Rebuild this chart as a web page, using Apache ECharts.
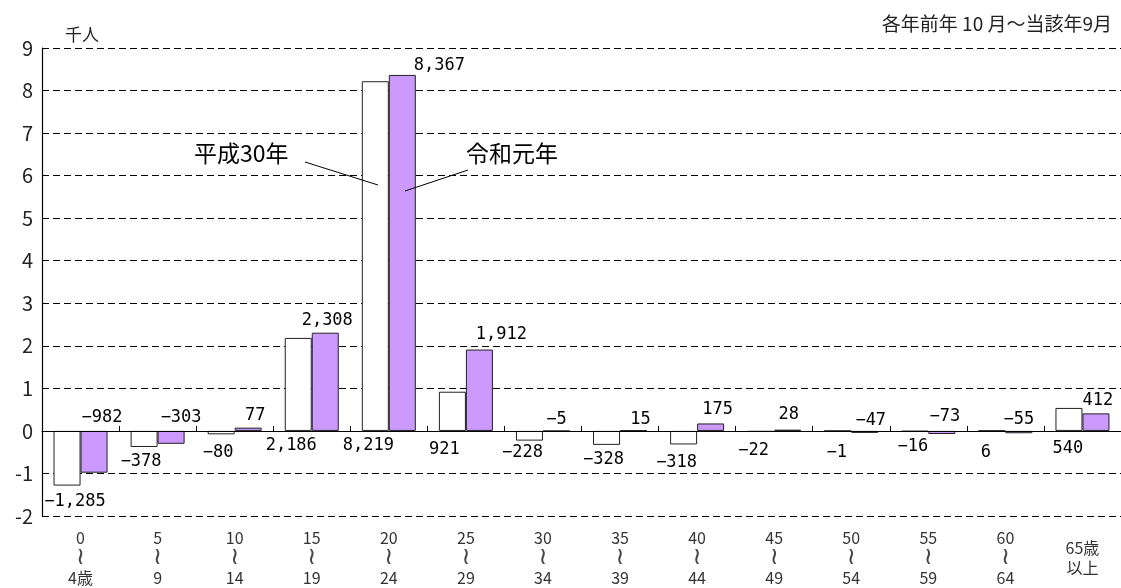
<!DOCTYPE html>
<html>
<head>
<meta charset="utf-8">
<script src="https://cdn.jsdelivr.net/npm/echarts@6.0.0/dist/echarts.min.js"></script>
<style>
  html, body { margin: 0; padding: 0; background: #fff; }
  #main { width: 1121px; height: 588px; }
</style>
</head>
<body>
<div id="main"></div>
<script>
// 年齢階級
const categories = ['0\n{w|≀}\n4歳', '5\n{w|≀}\n9', '10\n{w|≀}\n14', '15\n{w|≀}\n19', '20\n{w|≀}\n24', '25\n{w|≀}\n29',
  '30\n{w|≀}\n34', '35\n{w|≀}\n39', '40\n{w|≀}\n44', '45\n{w|≀}\n49', '50\n{w|≀}\n54', '55\n{w|≀}\n59',
  '60\n{w|≀}\n64', '65歳\n以上'];
// 転入超過数（人）
const h30 = [-1285, -378, -80, 2186, 8219, 921, -228, -328, -318, -22, -1, -16, 6, 540];
const r1 = [-982, -303, 77, 2308, 8367, 1912, -5, 15, 175, 28, -47, -73, -55, 412];
const yTicks = [-2, -1, 0, 1, 2, 3, 4, 5, 6, 7, 8, 9];

// ラベルの微調整（px）
const h30LabelDx = [8, -3, -3, -7, -7, -8, -7, -3, -7, -7, -1, -2, -6, -1];
const h30LabelDy = [0, -1, 3, -1, -1, 3, -4, -1, 3, 3, 6, -1, 6, 2];
const r1LabelDx = [8, 10, 7, 2, 37, 22, 0, 7, 7, 1, 6, 3, 0, 2];
const r1LabelDy = [-1, -1, 0, 0, 3, -2, 2, 2, -1, -3, 2, -2, 1, 0];

function fmt(v) {
  const s = Math.abs(v).toLocaleString('en-US');
  return v < 0 ? '\u2212' + s : s;
}

const labelFont = { fontFamily: 'DejaVu Sans Mono', fontSize: 17, color: '#000' };
const jp = '"Noto Sans CJK JP"';

const myChart = echarts.init(document.getElementById('main'));
const option = {
  backgroundColor: '#fff',
  animation: false,
  title: {
    text: '各年前年 10 月～当該年9月',
    right: 4,
    top: 9,
    textStyle: { fontFamily: jp, fontSize: 19, fontWeight: 'normal', color: '#222' }
  },
  grid: { left: 42, top: 48, width: 1086, height: 471 },
  xAxis: [
    {
      type: 'category',
      position: 'bottom',
      data: categories,
      axisLine: { show: false, onZero: false },
      axisTick: { show: false },
      axisLabel: {
        interval: 0,
        margin: 42,
        verticalAlign: 'middle',
        lineHeight: 20,
        fontFamily: jp,
        fontSize: 16,
        color: '#333',
        rich: {
          w: { fontFamily: 'DejaVu Sans', fontSize: 24, lineHeight: 20, color: '#444' }
        }
      }
    },
    {
      // 0の位置の軸線
      type: 'category',
      position: 'bottom',
      data: categories,
      axisLine: { show: true, onZero: true, lineStyle: { color: '#000', width: 1.2 } },
      axisTick: { show: true, inside: true, length: 5, lineStyle: { color: '#000' } },
      axisLabel: { show: false },
      z: 5
    }
  ],
  yAxis: {
    type: 'value',
    min: yTicks[0],
    max: yTicks[yTicks.length - 1],
    interval: 1,
    name: '千人',
    nameLocation: 'end',
    nameGap: 5,
    nameTextStyle: { fontFamily: jp, fontSize: 17, color: '#222', align: 'left', padding: [0, 0, 0, 23] },
    axisLine: { show: true, lineStyle: { color: '#000', width: 1.2 } },
    axisTick: { show: false },
    axisLabel: { margin: 9, fontFamily: jp, fontSize: 20, color: '#222' },
    splitLine: { show: true, lineStyle: { color: '#000', width: 1.2, type: [7, 4] } }
  },
  series: [
    {
      name: '平成30年',
      type: 'bar',
      barWidth: 27,
      barGap: '0%',
      itemStyle: { color: '#fff', borderColor: '#222', borderWidth: 1 },
      label: {
        show: true,
        position: 'bottom',
        distance: 7,
        ...labelFont,
        formatter: p => fmt(h30[p.dataIndex])
      },
      data: h30.map((v, i) => ({ value: v / 1000, label: { offset: [h30LabelDx[i], h30LabelDy[i]] } }))
    },
    {
      name: '令和元年',
      type: 'bar',
      barWidth: 27,
      barGap: '0%',
      itemStyle: { color: '#cc99ff', borderColor: '#222', borderWidth: 1 },
      label: {
        show: true,
        position: 'top',
        distance: 4,
        ...labelFont,
        formatter: p => fmt(r1[p.dataIndex])
      },
      data: r1.map((v, i) => ({ value: v / 1000, label: { offset: [r1LabelDx[i], r1LabelDy[i]] } }))
    }
  ],
  graphic: [
    { type: 'text', left: 194, top: 142, style: { text: '平成30年', font: '23px ' + jp, fill: '#000' }, z: 10 },
    { type: 'text', left: 466, top: 142, style: { text: '令和元年', font: '23px ' + jp, fill: '#000' }, z: 10 },
    { type: 'line', shape: { x1: 305, y1: 162, x2: 378, y2: 185 }, style: { stroke: '#000', lineWidth: 1 }, z: 10 },
    { type: 'line', shape: { x1: 468, y1: 170, x2: 405, y2: 191 }, style: { stroke: '#000', lineWidth: 1 }, z: 10 }
  ]
};
option && myChart.setOption(option);
</script>
</body>
</html>
